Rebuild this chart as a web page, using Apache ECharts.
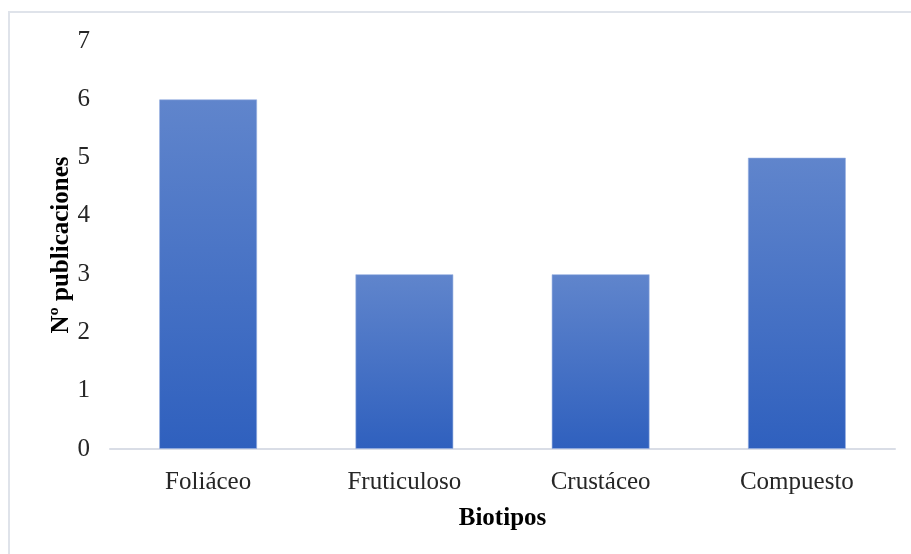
<!DOCTYPE html>
<html>
<head>
<meta charset="utf-8">
<script src="https://cdn.jsdelivr.net/npm/echarts@6/dist/echarts.min.js"></script>
<style>
  html, body { margin: 0; padding: 0; background: #ffffff; }
  #chart { width: 911px; height: 554px; }
</style>
</head>
<body>
<div id="chart"></div>
<script>
// Number of publications per lichen growth form
const categories = ['Foliáceo', 'Fruticuloso', 'Crustáceo', 'Compuesto'];
const publicaciones = [6, 3, 3, 5];
const yTicks = [0, 1, 2, 3, 4, 5, 6, 7];

const serif = '"Liberation Serif", "DejaVu Serif", serif';

const chart = echarts.init(document.getElementById('chart'));
chart.setOption({
  backgroundColor: '#ffffff',
  animation: false,
  graphic: [{
    type: 'rect',
    shape: { x: 9, y: 12, width: 960, height: 600 },
    style: { fill: 'none', stroke: '#dfe3ea', lineWidth: 2 },
    silent: true,
    z: -1
  }],
  grid: { left: 110, right: 16, top: 41, bottom: 105 },
  xAxis: {
    type: 'category',
    data: categories,
    name: 'Biotipos',
    nameLocation: 'middle',
    nameGap: 57,
    nameMoveOverlap: false,
    nameTextStyle: { fontFamily: serif, fontSize: 25, fontWeight: 'bold', color: '#000' },
    axisLine: { lineStyle: { color: '#d9dde6', width: 2 } },
    axisTick: { show: false },
    axisLabel: { fontFamily: serif, fontSize: 25, color: '#262626', margin: 21 }
  },
  yAxis: {
    type: 'value',
    min: yTicks[0],
    max: yTicks[yTicks.length - 1],
    interval: 1,
    name: 'Nº publicaciones',
    nameLocation: 'middle',
    nameGap: 36,
    nameMoveOverlap: false,
    nameTextStyle: { fontFamily: serif, fontSize: 25, fontWeight: 'bold', color: '#000' },
    axisLine: { show: false },
    axisTick: { show: false },
    splitLine: { show: false },
    axisLabel: { fontFamily: serif, fontSize: 25, color: '#262626', margin: 20 }
  },
  series: [{
    type: 'bar',
    data: publicaciones,
    barWidth: '50%',
    itemStyle: {
      color: new echarts.graphic.LinearGradient(0, 0, 0, 1, [
        { offset: 0, color: '#6085cc' },
        { offset: 1, color: '#2f60be' }
      ]),
      borderColor: 'rgba(150,175,225,0.6)',
      borderWidth: 1
    }
  }]
});
</script>
</body>
</html>
